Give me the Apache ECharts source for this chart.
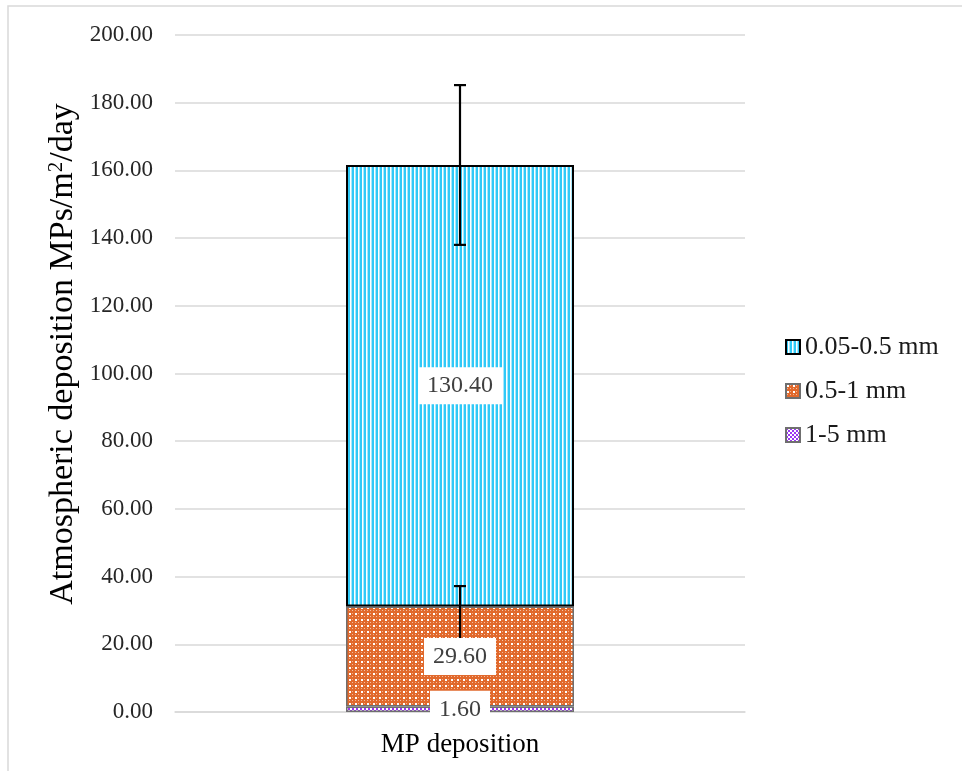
<!DOCTYPE html>
<html>
<head>
<meta charset="utf-8">
<script src="https://cdn.jsdelivr.net/npm/echarts@6/dist/echarts.min.js"></script>
<style>
  html, body { margin: 0; padding: 0; background: #fff; }
  #chart { width: 962px; height: 771px; }
</style>
</head>
<body>
<div id="chart"></div>
<script>
// Atmospheric microplastic deposition by particle size class
const categories = ['MP deposition'];
const legendOrder = ['0.05-0.5 mm', '0.5-1 mm', '1-5 mm'];
const values1to5 = [1.60];
const values05to1 = [29.60];
const values005to05 = [130.40];
// error bars drawn at the top of a stacked segment: [plus, minus]
const errors05to1 = [[6.0, 12.0]];
const errors005to05 = [[23.6, 23.6]];
const yTicks = { min: 0, max: 200, interval: 20 };

const FONT = '"Liberation Serif", "Times New Roman", serif';

function makePattern(w, h, draw) {
  const c = document.createElement('canvas');
  c.width = w; c.height = h;
  draw(c.getContext('2d'));
  return { image: c, repeat: 'repeat' };
}

// narrow vertical stripes
const cyanPattern = makePattern(4, 4, g => {
  g.fillStyle = '#2fc9f7'; g.fillRect(0, 0, 4, 4);
  g.fillStyle = '#ffffff'; g.fillRect(2, 0, 1, 4);
  g.fillStyle = '#a6e8fc'; g.fillRect(3, 0, 1, 4);
});
// orange with a grid of light dots
const orangePattern = makePattern(6, 6, g => {
  g.fillStyle = '#e1692c'; g.fillRect(0, 0, 6, 6);
  g.fillStyle = '#ffffff'; g.fillRect(1, 1, 2, 2);
  g.fillStyle = '#f4c2a6'; g.fillRect(4, 4, 1, 1);
  g.fillStyle = '#f0b08e'; g.fillRect(4, 1, 1, 1); g.fillRect(1, 4, 1, 1);
});
// purple checker
const purplePattern = makePattern(4, 4, g => {
  g.fillStyle = '#ffffff'; g.fillRect(0, 0, 4, 4);
  g.fillStyle = '#9b38f2'; g.fillRect(0, 0, 2, 2); g.fillRect(2, 2, 2, 2);
});

const labelStyle = {
  show: true,
  position: 'inside',
  formatter: p => p.value.toFixed(2),
  color: '#404040',
  fontFamily: FONT,
  fontSize: 24,
  backgroundColor: '#ffffff',
  padding: [7, 9, 6, 9]
};

// cumulative top of the stack up to layer idx
function stackTops(idx) {
  const layers = [values1to5, values05to1, values005to05];
  return categories.map((_, j) => layers.slice(0, idx + 1).reduce((s, a) => s + a[j], 0));
}

const errTop1 = stackTops(1);
const errTop2 = stackTops(2);
const errorData = [];
categories.forEach((c, j) => {
  errorData.push([j, errTop1[j], errTop1[j] + errors05to1[j][0], errTop1[j] - errors05to1[j][1]]);
  errorData.push([j, errTop2[j], errTop2[j] + errors005to05[j][0], errTop2[j] - errors005to05[j][1]]);
});

const chart = echarts.init(document.getElementById('chart'), null, { renderer: 'canvas' });

const option = {
  animation: false,
  backgroundColor: '#ffffff',
  textStyle: { fontFamily: FONT },
  graphic: [
    {
      type: 'rect',
      shape: { x: 8, y: 6, width: 1000, height: 800 },
      style: { fill: 'none', stroke: '#d9d9d9', lineWidth: 1.5 },
      silent: true, z: -1
    },
    {
      type: 'text',
      x: 63, y: 354,
      rotation: Math.PI / 2,
      style: {
        text: 'Atmospheric deposition MPs/m{sup|2}/day',
        fontFamily: FONT,
        fontSize: 34,
        fill: '#000000',
        align: 'center',
        verticalAlign: 'middle',
        rich: {
          sup: { fontFamily: FONT, fontSize: 21, verticalAlign: 'top', padding: [0, 0, 14, 0], fill: '#000000' }
        }
      }
    }
  ],
  grid: { left: 175, right: 217, top: 35, bottom: 59, containLabel: false },
  legend: {
    orient: 'vertical',
    left: 780,
    top: 329,
    icon: 'rect',
    itemWidth: 14,
    itemHeight: 14,
    itemGap: 18,
    data: legendOrder,
    textStyle: { fontFamily: FONT, fontSize: 26, color: '#1a1a1a' }
  },
  xAxis: {
    type: 'category',
    data: categories,
    axisLine: { lineStyle: { color: '#d9d9d9', width: 1.5 } },
    axisTick: { show: false },
    axisLabel: { color: '#000000', fontFamily: FONT, fontSize: 27, margin: 19 }
  },
  yAxis: {
    type: 'value',
    min: yTicks.min,
    max: yTicks.max,
    interval: yTicks.interval,
    axisLine: { show: false },
    axisTick: { show: false },
    splitLine: { lineStyle: { color: '#d9d9d9', width: 1.5 } },
    axisLabel: {
      color: '#262626', fontFamily: FONT, fontSize: 23, margin: 22,
      formatter: v => v.toFixed(2)
    }
  },
  series: [
    {
      name: '1-5 mm', type: 'bar', stack: 'total', barWidth: '40%', z: 2,
      data: values1to5,
      itemStyle: { color: purplePattern, borderColor: '#6f6f6f', borderWidth: 1.5 }
    },
    {
      name: '0.5-1 mm', type: 'bar', stack: 'total', barWidth: '40%', z: 2,
      data: values05to1,
      itemStyle: { color: orangePattern, borderColor: '#6f6f6f', borderWidth: 1.5 }
    },
    {
      name: '0.05-0.5 mm', type: 'bar', stack: 'total', barWidth: '40%', z: 2,
      data: values005to05,
      itemStyle: { color: cyanPattern, borderColor: '#000000', borderWidth: 2 }
    },
    {
      name: 'error', type: 'custom', z: 3,
      data: errorData,
      encode: { x: 0, y: [1, 2, 3] },
      renderItem: (params, api) => {
        const x = api.value(0);
        const hi = api.coord([x, api.value(2)]);
        const lo = api.coord([x, api.value(3)]);
        const half = 6;
        const st = { stroke: '#000000', lineWidth: 2.2 };
        return {
          type: 'group',
          children: [
            { type: 'line', shape: { x1: hi[0], y1: hi[1], x2: lo[0], y2: lo[1] }, style: st },
            { type: 'line', shape: { x1: hi[0] - half, y1: hi[1], x2: hi[0] + half, y2: hi[1] }, style: st },
            { type: 'line', shape: { x1: lo[0] - half, y1: lo[1], x2: lo[0] + half, y2: lo[1] }, style: st }
          ]
        };
      }
    },
    // value labels sit above the error bars
    {
      name: 'lbl1', type: 'bar', stack: 'labels', barWidth: '40%', barGap: '-100%', z: 4,
      data: values1to5, itemStyle: { color: 'rgba(0,0,0,0)' }, label: labelStyle, silent: true
    },
    {
      name: 'lbl2', type: 'bar', stack: 'labels', barWidth: '40%', barGap: '-100%', z: 4,
      data: values05to1, itemStyle: { color: 'rgba(0,0,0,0)' }, label: labelStyle, silent: true
    },
    {
      name: 'lbl3', type: 'bar', stack: 'labels', barWidth: '40%', barGap: '-100%', z: 4,
      data: values005to05, itemStyle: { color: 'rgba(0,0,0,0)' }, label: labelStyle, silent: true
    }
  ]
};

chart.setOption(option);
</script>
</body>
</html>
